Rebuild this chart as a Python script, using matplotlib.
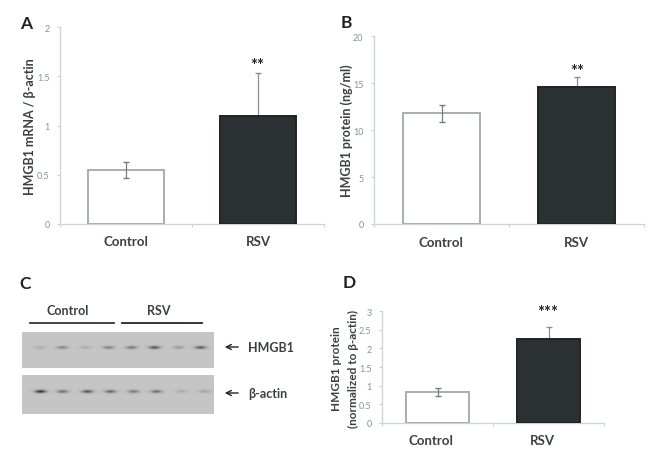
import numpy as np
import matplotlib
matplotlib.use("Agg")
import matplotlib.pyplot as plt

plt.rcParams['font.family'] = ['Lato', 'DejaVu Sans']

W, H = 651, 456

groups = ["Control", "RSV"]

# panel A
a_vals = [0.55, 1.10]
a_err = [0.08, 0.43]
a_ticks = [0, 0.5, 1, 1.5, 2]
a_ticklabels = ["0", "0.5", "1", "1.5", "2"]

# panel B
b_vals = [11.8, 14.6]
b_err = [0.9, 1.0]
b_ticks = [0, 5, 10, 15, 20]
b_ticklabels = ["0", "5", "10", "15", "20"]

# panel D
d_vals = [0.83, 2.25]
d_err = [0.11, 0.33]
d_ticks = [0, 0.5, 1, 1.5, 2, 2.5, 3]
d_ticklabels = ["0", "0.5", "1", "1.5", "2", "2.5", "3"]

hmgb1_x = [39, 62, 85, 108, 131, 154, 178, 200]
hmgb1_dark = [0.15, 0.38, 0.15, 0.4, 0.45, 0.65, 0.25, 0.62]
actin_x = [40, 62, 87, 110, 133, 156, 181, 204]
actin_dark = [0.85, 0.5, 0.65, 0.55, 0.45, 0.5, 0.15, 0.2]

AXIS = "#ccd3d3"
TICK = "#8c9292"
TEXT = "#3a4041"
DARK = "#2b3133"
EDGE = "#a9adab"


def px_axes(fig, left, right, top, bottom):
    return fig.add_axes([left / W, 1 - bottom / H, (right - left) / W, (bottom - top) / H])


def bar_panel(fig, box, vals, err, ticks, ticklabels, width):
    ax = px_axes(fig, *box)
    ax.bar([0, 1], vals, width=width, color=["white", DARK],
           edgecolor=[EDGE, "#1f2426"], linewidth=1.4, zorder=3)
    ax.errorbar([0], vals[0], yerr=err[0], color="#777d7c", capsize=2.2, lw=0.9, zorder=4)
    ax.errorbar([1], vals[1], yerr=[[0], [err[1]]], color="#8b908f", capsize=2.2, lw=0.9, zorder=2)
    ax.set_xlim(-0.5, 1.5)
    ax.set_ylim(ticks[0], ticks[-1])
    ax.set_yticks(ticks)
    ax.set_yticklabels(ticklabels, fontsize=6.5, color=TICK)
    ax.set_xticks([-0.5, 0.5, 1.5])
    ax.set_xticklabels([])
    ax.tick_params(axis='both', color=AXIS, length=2.5, width=0.8, pad=5)
    for side in ['top', 'right']:
        ax.spines[side].set_visible(False)
    for side in ['left', 'bottom']:
        ax.spines[side].set_color(AXIS)
        ax.spines[side].set_linewidth(0.9)
    return ax


fig = plt.figure(figsize=(W / 100, H / 100), dpi=100, facecolor="white")

bar_panel(fig, (60, 324, 28, 225), a_vals, a_err, a_ticks, a_ticklabels, 0.575)
bar_panel(fig, (374, 644, 37, 225), b_vals, b_err, b_ticks, b_ticklabels, 0.57)
bar_panel(fig, (382, 604, 312, 424), d_vals, d_err, d_ticks, d_ticklabels, 0.57)

# overlay in pixel coordinates for the blot and the loose text
ov = fig.add_axes([0, 0, 1, 1], facecolor="none")
ov.axis("off")


def blot(x0, x1, y0, y1, yc, centres, dark):
    xx, yy = np.meshgrid(np.arange(x0, x1), np.arange(y0, y1))
    img = np.zeros(xx.shape)
    for c, d in zip(centres, dark):
        img += d * np.exp(-((xx - c) / 5.5) ** 2 - ((yy - yc) / 1.6) ** 2)
    gray = np.clip(0.77 - img * 0.65, 0, 1)
    ov.imshow(gray, extent=(x0, x1, y1, y0), cmap="gray", vmin=0, vmax=1,
              aspect="auto", interpolation="bilinear", zorder=1)


blot(22, 214, 333, 369, 348, hmgb1_x, hmgb1_dark)
blot(22, 214, 376, 415, 392, actin_x, actin_dark)
ov.set_xlim(0, W)
ov.set_ylim(H, 0)

# group bars above the blot
ov.plot([30, 114], [324, 324], color="#2d3a3a", lw=1.3)
ov.plot([122, 202], [324, 324], color="#22282a", lw=1.3)
ov.text(68, 311, groups[0], ha="center", va="center", fontsize=9, color=TEXT, weight="bold")
ov.text(159, 311, groups[1], ha="center", va="center", fontsize=9, color=TEXT, weight="bold")

for y, name in [(348, "HMGB1"), (394, "β-actin")]:
    ov.annotate("", xy=(222, y), xytext=(241, y),
                arrowprops=dict(arrowstyle="->", color="#222222", lw=1.0, mutation_scale=9))
    ov.text(248, y + 0.5, name, ha="left", va="center", fontsize=9, color=TEXT, weight="bold")

# panel letters
for x, y, s in [(26, 24, "A"), (346, 23, "B"), (25, 284, "C"), (349, 283, "D")]:
    ov.text(x, y, s, ha="center", va="center", fontsize=12.5, color="#222222", weight="bold")

# category labels
for xs, y in [((126, 258), 242), ((441, 576), 243), ((431, 542), 441)]:
    for x, s in zip(xs, groups):
        ov.text(x, y, s, ha="center", va="center", fontsize=9.5, color=TEXT, weight="bold")

# significance stars
ov.text(257.5, 66, "**", ha="center", va="center", fontsize=12, color="#222222", weight="bold")
ov.text(577, 72, "**", ha="center", va="center", fontsize=12, color="#222222", weight="bold")
ov.text(548, 313, "***", ha="center", va="center", fontsize=12, color="#222222", weight="bold")

# y labels
ov.text(30, 127, "HMGB1 mRNA / β-actin", rotation=90, ha="center", va="center",
        fontsize=9, color=TEXT, weight="bold")
ov.text(346.5, 131, "HMGB1 protein (ng/ml)", rotation=90, ha="center", va="center",
        fontsize=9, color=TEXT, weight="bold")
ov.text(337, 369, "HMGB1 protein", rotation=90, ha="center", va="center",
        fontsize=8.5, color=TEXT, weight="bold")
ov.text(353, 369, "(normalized to β-actin)", rotation=90, ha="center", va="center",
        fontsize=8.5, color=TEXT, weight="bold")

fig.savefig("out.png", dpi=100)
